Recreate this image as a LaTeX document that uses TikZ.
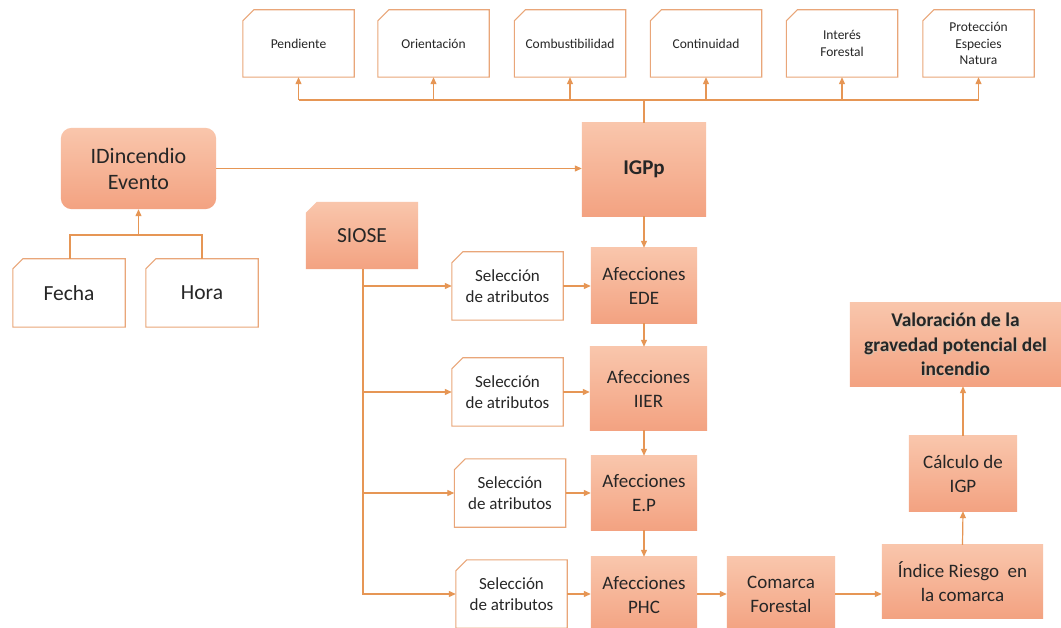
\documentclass[tikz,border=0pt]{standalone}
\usepackage{fontspec}
\setmainfont{Carlito}
\usetikzlibrary{arrows.meta,calc}
\definecolor{wire}{HTML}{E69655}
\definecolor{rim}{HTML}{E9A679}
\definecolor{salmonTop}{HTML}{F9C6AC}
\definecolor{salmonBot}{HTML}{F3A281}
\definecolor{ink}{HTML}{262626}
\tikzset{
  conn/.style={draw=wire, line width=1.2pt},
  arr/.style={conn, -{Triangle[length=7pt,width=6pt]}},
  cell/.style={inner sep=0pt, align=center, text=ink},
  small/.style={cell, font=\fontsize{13.5}{16.5}\selectfont},
  mid/.style={cell, font=\fontsize{17}{21}\selectfont},
  big/.style={cell, font=\fontsize{19}{24}\selectfont},
  huge/.style={cell, font=\fontsize{21.5}{26}\selectfont},
  hot/.style={top color=salmonTop, bottom color=salmonBot, draw=none},
}
% outline of a white box with its top-left corner cut off
\newcommand\snipoutline[2][11pt]{%
  \draw[rim, line width=1.1pt, fill=white]
    ([yshift=-#1]#2.north west) -- ([xshift=#1]#2.north west) -- (#2.north east)
    -- (#2.south east) -- (#2.south west) -- cycle;}
\begin{document}
\begin{tikzpicture}[x=1pt,y=-1pt]
\useasboundingbox (0,0) rectangle (1061,628);
\clip (0,0) rectangle (1061,628);
\fill[white] (0,0) rectangle (1061,628);

% ---------- criteria row ----------
\foreach \nm/\cx/\txt in {pend/298.5/Pendiente, orie/433.5/Orientación,
    comb/570/Combustibilidad, cont/706/Continuidad,
    inte/842/{Interés\\Forestal}, prot/978.5/{Protección\\Especies\\Natura}}{
  \node[small, minimum width=111pt, minimum height=67pt] (\nm) at (\cx,43.5) {};
  \snipoutline{\nm}
  \node[small] at (\nm) {\txt};
}

% ---------- IGPp ----------
\node[cell, minimum width=124pt, minimum height=93pt] (igpp) at (644,169.5) {};
\shade[hot] (igpp.south west) rectangle (igpp.north east);
\node[huge, font=\fontsize{21}{25}\selectfont\bfseries] at (igpp) {IGPp};

% ---------- incident ----------
\node[cell, minimum width=155pt, minimum height=81pt] (idinc) at (138.5,168.5) {};
\shade[hot, rounded corners=11pt] (idinc.south west) rectangle (idinc.north east);
\node[cell, font=\fontsize{22}{26}\selectfont] at (idinc) {IDincendio\\Evento};

\node[huge, minimum width=112pt, minimum height=68pt] (fecha) at (69,293) {};
\snipoutline[10pt]{fecha}
\node[huge] at (fecha) {Fecha};
\node[huge, minimum width=112pt, minimum height=68pt] (hora) at (202,293) {};
\snipoutline[10pt]{hora}
\node[huge] at (hora) {Hora};

% ---------- SIOSE ----------
\node[cell, minimum width=112pt, minimum height=67pt] (siose) at (362,235.5) {};
\shade[hot] ([yshift=-11pt]siose.north west) -- ([xshift=11pt]siose.north west)
  -- (siose.north east) -- (siose.south east) -- (siose.south west) -- cycle;
\node[huge] at (siose) {SIOSE};

% ---------- attribute selections ----------
\foreach \nm/\cx/\cy in {sel1/507.5/286, sel2/507.5/392, sel3/510/493, sel4/511.5/594}{
  \node[mid, minimum width=111pt, minimum height=68pt] (\nm) at (\cx,\cy) {};
  \snipoutline{\nm}
  \node[mid] at (\nm) {Selección\\de atributos};
}

% ---------- afecciones chain ----------
\foreach \nm/\cx/\cy/\w/\h/\txt in {ede/644/285.5/106/75/EDE, iier/648.5/388.5/117/83/IIER,
    ep/644/493/106/74/E.P, phc/644/595.5/106/77/PHC}{
  \node[cell, minimum width=\w pt, minimum height=\h pt] (\nm) at (\cx,\cy) {};
  \shade[hot] (\nm.south west) rectangle (\nm.north east);
  \node[big] at (\nm) {Afecciones\\\txt};
}

% ---------- final steps ----------
\node[cell, minimum width=108pt, minimum height=74pt] (comarca) at (781,594) {};
\shade[hot] (comarca.south west) rectangle (comarca.north east);
\node[big] at (comarca) {Comarca\\Forestal};

\node[cell, minimum width=161pt, minimum height=73pt] (indice) at (962.5,581.5) {};
\shade[hot] (indice.south west) rectangle (indice.north east);
\node[big] at (indice) {Índice Riesgo~ en\\la comarca};

\node[cell, minimum width=108pt, minimum height=75pt] (calc) at (963,473.5) {};
\shade[hot] (calc.south west) rectangle (calc.north east);
\node[big] at (calc) {Cálculo de\\IGP};

\node[cell, minimum width=211pt, minimum height=83pt] (valor) at (955.5,344.5) {};
\shade[hot] (valor.south west) rectangle (valor.north east);
\node[cell, font=\fontsize{19.4}{24.5}\selectfont\bfseries, text=black!25!brown!40!white]
  at ([xshift=0.8pt,yshift=-0.8pt]valor.center) {Valoración de la\\gravedad potencial del\\incendio};
\node[cell, font=\fontsize{19.4}{24.5}\selectfont\bfseries] at (valor) {Valoración de la\\gravedad potencial del\\incendio};

% ---------- connectors ----------
\coordinate (bus) at (644,100);
\draw[conn] (igpp.north) -- (bus);
\draw[conn] (pend.south |- bus) -- (prot.south |- bus);
\foreach \nm in {pend,orie,comb,cont,inte,prot}
  \draw[arr] (\nm.south |- bus) -- (\nm.south);

\draw[arr] (idinc.east) -- (igpp.west |- idinc.east);

\coordinate (tie) at (138.5,235);
\draw[conn] ([xshift=1pt]fecha.north) |- (tie) -| (hora.north);
\draw[arr] (tie) -- (idinc.south);

\coordinate (trunk) at (363,595);
\draw[conn] (siose.south -| trunk) -- (trunk);
\foreach \nm in {sel1,sel2,sel3,sel4}
  \draw[arr] (trunk |- \nm.west) -- (\nm.west);
\draw[arr] (sel1.east) -- (sel1.east -| ede.west);
\draw[arr] (sel2.east) -- (sel2.east -| iier.west);
\draw[arr] (sel3.east) -- (sel3.east -| ep.west);
\draw[arr] (sel4.east) -- (sel4.east -| phc.west);

\draw[arr] (igpp.south) -- (ede.north);
\draw[arr] (ede.south) -- (ede.south |- iier.north);
\draw[arr] (ede.south |- iier.south) -- (ep.north);
\draw[arr] (ep.south) -- (phc.north);
\draw[arr] (phc.east |- comarca.east) -- (comarca.west);
\draw[arr] (comarca.east) -- (comarca.east -| indice.west);
\draw[arr] (indice.north) -- (calc.south);
\draw[arr] (calc.north) -- (valor.south -| calc.north);
\end{tikzpicture}
\end{document}
